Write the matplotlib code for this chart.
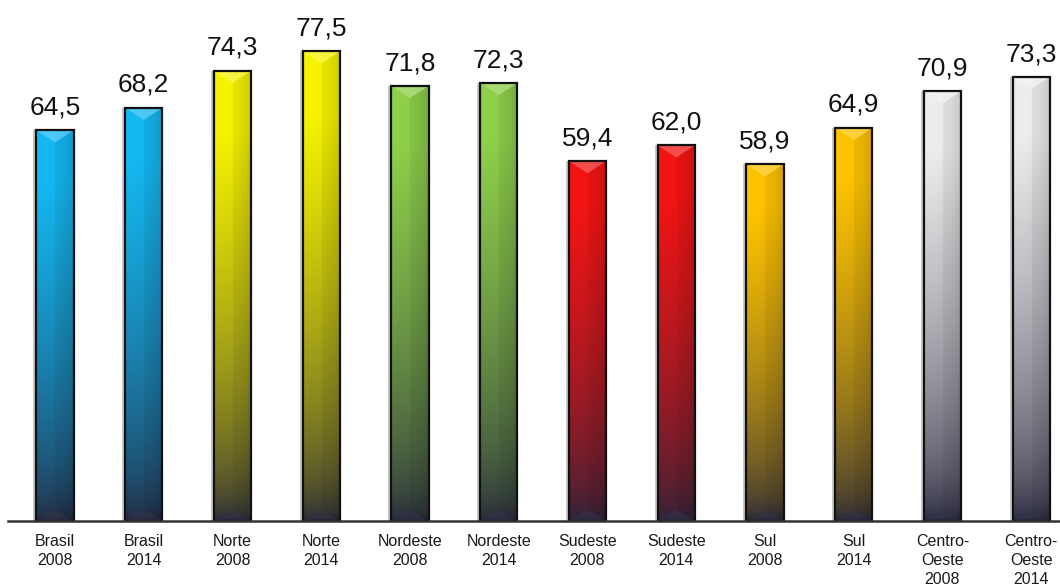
import numpy as np
import matplotlib.pyplot as plt
from matplotlib.colors import to_rgb
from matplotlib.patches import Polygon, Rectangle

labels = ["Brasil\n2008", "Brasil\n2014", "Norte\n2008", "Norte\n2014",
          "Nordeste\n2008", "Nordeste\n2014", "Sudeste\n2008", "Sudeste\n2014",
          "Sul\n2008", "Sul\n2014", "Centro-\nOeste\n2008", "Centro-\nOeste\n2014"]
values = [64.5, 68.2, 74.3, 77.5, 71.8, 72.3, 59.4, 62.0, 58.9, 64.9, 70.9, 73.3]
value_text = ["64,5", "68,2", "74,3", "77,5", "71,8", "72,3",
              "59,4", "62,0", "58,9", "64,9", "70,9", "73,3"]
bar_colors = ["#14b8f2", "#14b8f2", "#f8f400", "#f8f400", "#8ed04a", "#8ed04a",
              "#f41414", "#f41414", "#ffc400", "#ffc400", "#eeeeee", "#eeeeee"]
dark = "#24243a"

plt.rcParams["font.family"] = ["Liberation Sans", "DejaVu Sans"]

fig = plt.figure(figsize=(10.6, 5.85), dpi=100)
ax = fig.add_axes([8 / 1060, 64 / 585, 1052 / 1060, 521 / 585])

w = 0.42
tri = 2.0
x = np.arange(len(values))
for i, v in enumerate(values):
    top = np.array(to_rgb(bar_colors[i]))
    bot = np.array(to_rgb(dark))
    t = np.linspace(0, 1, 200)[:, None]          # 0 at bottom, 1 at top
    # stays bright in the upper part, darkens toward the bottom
    f = np.clip(t * 1.15, 0, 1) ** 0.6
    vert = bot + (top - bot) * f
    u = np.linspace(0, 1, 40)
    shade = np.where(u < 0.5, 1.0, 0.95) - 0.12 * u ** 3
    img = np.clip(vert[:, None, :] * shade[None, :, None], 0, 1)
    # light shadow on left side
    ax.add_patch(Rectangle((x[i] - w / 2 - 0.035, 0), 0.035, v,
                           facecolor="#c8c8c8", edgecolor="none", zorder=1))
    ax.imshow(img, extent=(x[i] - w / 2, x[i] + w / 2, 0, v), origin="lower",
              aspect="auto", zorder=2, interpolation="bilinear")
    light = np.clip(top + (1 - top) * 0.3, 0, 1)
    ax.add_patch(Polygon([(x[i] - w / 2, v), (x[i] + w / 2, v), (x[i], v - tri)],
                         closed=True, facecolor=light, edgecolor="none", alpha=0.8, zorder=3))
    ax.add_patch(Polygon([(x[i] - w / 2, 0), (x[i] + w / 2, 0), (x[i], tri)],
                         closed=True, facecolor="#34344a", edgecolor="none", alpha=0.5, zorder=3))
    ax.add_patch(Rectangle((x[i] - w / 2, 0), w, v, facecolor="none",
                           edgecolor="#111111", linewidth=1.6, zorder=4))
    ax.text(x[i], v + 1.8, value_text[i], ha="center", va="bottom",
            fontsize=19, color="#111111", zorder=5)

ax.set_xlim(-0.5296, 11.324)
ax.set_ylim(0, 86)
ax.set_xticks(x)
ax.set_xticklabels(labels, fontsize=11.5, linespacing=1.35, color="#1a1a1a")
ax.tick_params(axis="x", length=0, pad=9)
ax.set_yticks([])
for s in ["top", "right", "left"]:
    ax.spines[s].set_visible(False)
ax.spines["bottom"].set_color("#333333")
ax.spines["bottom"].set_linewidth(1.8)
ax.spines["bottom"].set_zorder(6)

fig.savefig("out.png", dpi=100)
